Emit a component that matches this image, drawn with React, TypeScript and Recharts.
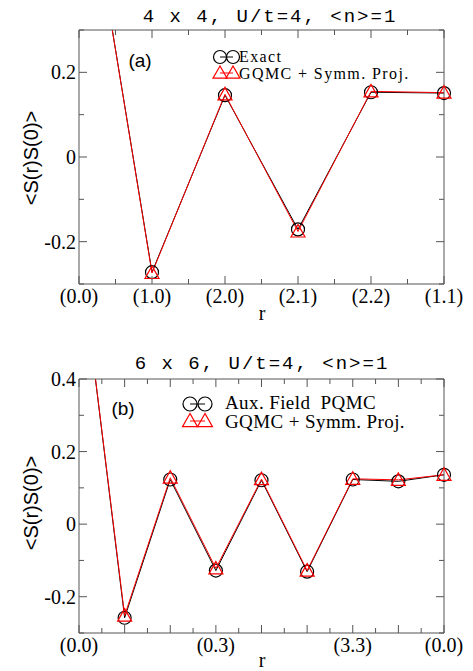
import React from 'react';
import { LineChart, Line, XAxis, YAxis } from 'recharts';

// panel (a): 4 x 4
const topX = [0, 1, 2, 3, 4, 5];
const topExact = [0.78, -0.272, 0.146, -0.171, 0.153, 0.151];
const topGqmc = [0.78, -0.274, 0.148, -0.176, 0.155, 0.152];
const topXTicks = [0, 0.5, 1, 1.5, 2, 2.5, 3, 3.5, 4, 4.5, 5];
const topXLabels: Record<number, string> = { 0: '(0.0)', 1: '(1.0)', 2: '(2.0)', 3: '(2.1)', 4: '(2.2)', 5: '(1.1)' };
const topYTicks = [-0.3, -0.2, -0.1, 0, 0.1, 0.2, 0.3];
const topYLabels: Record<string, string> = { '-0.2': '-0.2', '0': '0', '0.2': '0.2' };

// panel (b): 6 x 6
const botX = [0, 1, 2, 3, 4, 5, 6, 7, 8];
const botAux = [0.77, -0.258, 0.123, -0.128, 0.121, -0.131, 0.123, 0.118, 0.136];
const botGqmc = [0.77, -0.252, 0.128, -0.122, 0.124, -0.128, 0.125, 0.122, 0.136];
const botXTicks = [0, 0.5, 1, 1.5, 2, 2.5, 3, 3.5, 4, 4.5, 5, 5.5, 6, 6.5, 7, 7.5, 8];
const botXLabels: Record<number, string> = { 0: '(0.0)', 3: '(0.3)', 6: '(3.3)', 8: '(0.0)' };
const botYTicks = [-0.3, -0.2, -0.1, 0, 0.1, 0.2, 0.3, 0.4];
const botYLabels: Record<string, string> = { '-0.2': '-0.2', '0': '0', '0.2': '0.2', '0.4': '0.4' };

const AXIS = '#555';
const RED = '#ff0000';
const SERIF = '"Liberation Serif", "Times New Roman", serif';
const SANS = '"Liberation Sans", Arial, sans-serif';
const MONO = '"Liberation Mono", "Courier New", monospace';

const isMajor = (v: number) => Math.abs(v - Math.round(v)) < 1e-6;
const yKey = (v: number) => String(Math.round(v * 10) / 10);
const yMajor = (v: number) => Math.abs(Math.round(v * 10)) % 2 === 0;

const makeBottomTick = (labels: Record<number, string>) => (p: any) => {
  const v = p.payload.value;
  const len = isMajor(v) ? 8 : 5;
  return (
    <g>
      <line x1={p.x} x2={p.x} y1={p.y} y2={p.y - len} stroke={AXIS} />
      {labels[v] !== undefined && (
        <text x={p.x} y={p.y + 19} textAnchor="middle" fontFamily={SERIF} fontSize={20} fill="#000">
          {labels[v]}
        </text>
      )}
    </g>
  );
};

const TopTick = (p: any) => {
  const len = isMajor(p.payload.value) ? 8 : 5;
  return <line x1={p.x} x2={p.x} y1={p.y} y2={p.y + len} stroke={AXIS} />;
};

const makeLeftTick = (labels: Record<string, string>) => (p: any) => {
  const v = p.payload.value;
  const len = yMajor(v) ? 8 : 5;
  const lab = labels[yKey(v)];
  return (
    <g>
      <line x1={p.x} x2={p.x + len} y1={p.y} y2={p.y} stroke={AXIS} />
      {lab !== undefined && (
        <text x={p.x - 3} y={p.y} dy="0.35em" textAnchor="end" fontFamily={SERIF} fontSize={20} fill="#000">
          {lab}
        </text>
      )}
    </g>
  );
};

const RightTick = (p: any) => {
  const len = yMajor(p.payload.value) ? 8 : 5;
  return <line x1={p.x} x2={p.x - len} y1={p.y} y2={p.y} stroke={AXIS} />;
};

const CircleDot = (p: any) => {
  if (p.cx == null || p.cy == null) return <g key={p.index} />;
  return <circle key={p.index} cx={p.cx} cy={p.cy} r={6.5} fill="none" stroke="#000" strokeWidth={1.2} />;
};

const TriDot = (p: any) => {
  if (p.cx == null || p.cy == null) return <g key={p.index} />;
  const { cx, cy } = p;
  return (
    <polygon
      key={p.index}
      points={`${cx},${cy - 7} ${cx - 7},${cy + 5.5} ${cx + 7},${cy + 5.5}`}
      fill="none"
      stroke={RED}
      strokeWidth={1.2}
    />
  );
};

interface PanelProps {
  xs: number[];
  a: number[];
  b: number[];
  xDomain: [number, number];
  yDomain: [number, number];
  xTicks: number[];
  xLabels: Record<number, string>;
  yTicks: number[];
  yLabels: Record<string, string>;
  height: number;
  margin: { top: number; right: number; bottom: number; left: number };
}

// axes get a 1px box (a 0px one is not drawn), margins take the rest.
// only y overflows, so only y is clipped (edge markers stay whole)
function Panel({ xs, a, b, xDomain, yDomain, xTicks, xLabels, yTicks, yLabels, height, margin }: PanelProps) {
  const data = xs.map((x, i) => ({ x, a: a[i], b: b[i] }));
  const m = { top: margin.top - 1, right: margin.right - 1, bottom: margin.bottom - 1, left: margin.left - 1 };
  return (
    <LineChart width={473} height={height} data={data} margin={m}>
      <XAxis
        type="number"
        dataKey="x"
        domain={xDomain}
        ticks={xTicks}
        interval={0}
        height={1}
        tickSize={0}
        tickMargin={0}
        tickLine={false}
        axisLine={{ stroke: AXIS }}
        tick={makeBottomTick(xLabels)}
      />
      <XAxis
        xAxisId="t"
        orientation="top"
        type="number"
        dataKey="x"
        domain={xDomain}
        ticks={xTicks}
        interval={0}
        height={1}
        tickSize={0}
        tickMargin={0}
        tickLine={false}
        axisLine={{ stroke: AXIS }}
        tick={TopTick}
      />
      <YAxis
        type="number"
        domain={yDomain}
        ticks={yTicks}
        interval={0}
        allowDataOverflow
        width={1}
        tickSize={0}
        tickMargin={0}
        tickLine={false}
        axisLine={{ stroke: AXIS }}
        tick={makeLeftTick(yLabels)}
      />
      <YAxis
        yAxisId="r"
        orientation="right"
        type="number"
        domain={yDomain}
        ticks={yTicks}
        interval={0}
        allowDataOverflow
        width={1}
        tickSize={0}
        tickMargin={0}
        tickLine={false}
        axisLine={{ stroke: AXIS }}
        tick={RightTick}
      />
      <Line type="linear" dataKey="a" stroke="#000" strokeWidth={1} dot={CircleDot} isAnimationActive={false} />
      <Line type="linear" dataKey="b" stroke={RED} strokeWidth={1} dot={TriDot} isAnimationActive={false} />
    </LineChart>
  );
}

function LegendRow({ x1, x2, y, kind, r }: { x1: number; x2: number; y: number; kind: 'c' | 't'; r: number }) {
  if (kind === 'c') {
    return (
      <g>
        <line x1={x1} x2={x2} y1={y} y2={y} stroke="#000" />
        <circle cx={x1} cy={y} r={r} fill="none" stroke="#000" strokeWidth={1.2} />
        <circle cx={x2} cy={y} r={r} fill="none" stroke="#000" strokeWidth={1.2} />
      </g>
    );
  }
  const tri = (cx: number) => `${cx},${y - r - 0.5} ${cx - r - 0.5},${y + r * 0.8} ${cx + r + 0.5},${y + r * 0.8}`;
  return (
    <g>
      <line x1={x1} x2={x2} y1={y} y2={y} stroke={RED} />
      <polygon points={tri(x1)} fill="none" stroke={RED} strokeWidth={1.2} />
      <polygon points={tri(x2)} fill="none" stroke={RED} strokeWidth={1.2} />
    </g>
  );
}

export default function App() {
  return (
    <div style={{ position: 'absolute', left: 0, top: 0, width: 473, height: 671, background: '#fff' }}>
      <div style={{ position: 'absolute', left: 0, top: 0 }}>
        <Panel
          xs={topX}
          a={topExact}
          b={topGqmc}
          xDomain={[0, 5]}
          yDomain={[-0.3, 0.3]}
          xTicks={topXTicks}
          xLabels={topXLabels}
          yTicks={topYTicks}
          yLabels={topYLabels}
          height={320}
          margin={{ top: 30, right: 29, bottom: 36, left: 79 }}
        />
      </div>
      <div style={{ position: 'absolute', left: 0, top: 320 }}>
        <Panel
          xs={botX}
          a={botAux}
          b={botGqmc}
          xDomain={[0, 8]}
          yDomain={[-0.3, 0.4]}
          xTicks={botXTicks}
          xLabels={botXLabels}
          yTicks={botYTicks}
          yLabels={botYLabels}
          height={351}
          margin={{ top: 59, right: 29, bottom: 38, left: 79 }}
        />
      </div>
      <svg width={473} height={671} style={{ position: 'absolute', left: 0, top: 0, pointerEvents: 'none' }}>
        {/* titles */}
        <text x={270} y={22} textAnchor="middle" fontFamily={MONO} fontSize={19} letterSpacing={2} fill="#000">
          4 x 4, U/t=4, &lt;n&gt;=1
        </text>
        <text x={262} y={369} textAnchor="middle" fontFamily={MONO} fontSize={19} letterSpacing={2} fill="#000">
          6 x 6, U/t=4, &lt;n&gt;=1
        </text>

        {/* axis labels */}
        <text x={262} y={320} textAnchor="middle" fontFamily={SERIF} fontSize={20} fill="#000">r</text>
        <text x={262} y={667} textAnchor="middle" fontFamily={SERIF} fontSize={20} fill="#000">r</text>
        <text transform="translate(38,158) rotate(-90)" textAnchor="middle" fontFamily={SANS} fontSize={20} fill="#000">
          &lt;S(r)S(0)&gt;
        </text>
        <text transform="translate(38,503) rotate(-90)" textAnchor="middle" fontFamily={SANS} fontSize={20} fill="#000">
          &lt;S(r)S(0)&gt;
        </text>

        {/* panel tags */}
        <text x={140} y={67} textAnchor="middle" fontFamily={SANS} fontSize={19} fill="#000">(a)</text>
        <text x={123} y={415} textAnchor="middle" fontFamily={SANS} fontSize={19} fill="#000">(b)</text>

        {/* legend (a) */}
        <LegendRow x1={220} x2={233} y={57} kind="c" r={6.5} />
        <LegendRow x1={220} x2={233} y={73} kind="t" r={6.5} />
        <text x={239} y={62} fontFamily={SERIF} fontSize={16} letterSpacing={1.4} fill="#000">Exact</text>
        <text x={239} y={79} fontFamily={SERIF} fontSize={16} letterSpacing={1.4} fill="#000">GQMC + Symm. Proj.</text>

        {/* legend (b) */}
        <LegendRow x1={190} x2={205} y={404} kind="c" r={7} />
        <LegendRow x1={190} x2={205} y={421} kind="t" r={7} />
        <text x={225} y={409} fontFamily={SERIF} fontSize={19} letterSpacing={0.4} fill="#000" style={{ whiteSpace: 'pre' }}>
          Aux. Field  PQMC
        </text>
        <text x={225} y={428} fontFamily={SERIF} fontSize={19} letterSpacing={0.4} fill="#000">
          GQMC + Symm. Proj.
        </text>
      </svg>
    </div>
  );
}
